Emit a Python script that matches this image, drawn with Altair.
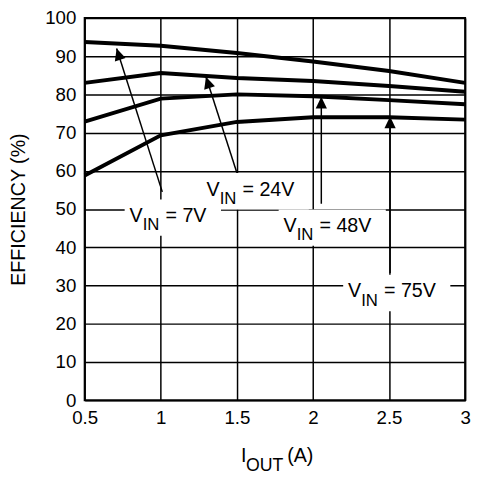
import math

import altair as alt
import pandas as pd

iout = [0.5, 1.0, 1.5, 2.0, 2.5, 3.0]
eff_7v = [93.7, 92.7, 90.8, 88.6, 86.1, 83.0]
eff_24v = [83.0, 85.6, 84.3, 83.5, 82.2, 80.7]
eff_48v = [72.9, 78.9, 80.0, 79.5, 78.5, 77.4]
eff_75v = [58.8, 69.3, 72.8, 74.0, 74.0, 73.4]

vin = ["7V", "24V", "48V", "75V"]
# label anchors (left end of "V", text baseline) in data units
label_x = [0.795, 1.301, 1.807, 2.231]
label_y = [46.6, 53.5, 44.0, 26.9]
# arrows: tail near the label, tip on the curve
tail_x = [1.01, 1.50, 2.055, 2.507]
tail_y = [54.5, 59.5, 51.4, 33.3]
tip_x = [0.71, 1.297, 2.055, 2.507]
tip_y = [92.0, 84.6, 79.4, 74.2]

xticks = [0.5, 1, 1.5, 2, 2.5, 3]
yticks = list(range(0, 101, 10))

W, H = 387, 389
px_x = W / (xticks[-1] - xticks[0])
px_y = H / 100

curves = pd.concat(
    [
        pd.DataFrame({"iout": iout, "eff": e, "vin": v})
        for v, e in zip(vin, [eff_7v, eff_24v, eff_48v, eff_75v])
    ]
)

labels = pd.DataFrame({"vin": vin, "x": label_x, "y": label_y})
labels["sub"] = "IN"
labels["rest"] = "= " + labels["vin"]
labels["x1"] = labels["x"] - 5 / px_x
labels["x2"] = labels["x"] + (71 + 11 * labels["vin"].str.len()) / px_x
labels["y1"] = labels["y"] + 23 / px_y
labels["y2"] = labels["y"] - 14 / px_y

arrows = pd.DataFrame(
    {"vin": vin, "tx": tail_x, "ty": tail_y, "hx": tip_x, "hy": tip_y}
)
arrows["angle"] = [
    math.degrees(math.atan2((hx - tx) * px_x, (hy - ty) * px_y)) % 360
    for tx, ty, hx, hy in zip(tail_x, tail_y, tip_x, tip_y)
]

font = "Liberation Sans"
xs = alt.Scale(domain=[0.5, 3], nice=False)
ys = alt.Scale(domain=[0, 100], nice=False)
xaxis = alt.Axis(values=xticks, format="~g", title=None, labelFlush=False, labelOverlap=False)
yaxis = alt.Axis(
    values=yticks,
    title="EFFICIENCY (%)",
    titleX=-77,
    titleY=H / 2,
    titleAngle=270,
    titleAlign="center",
    titleBaseline="top",
    labelPadding=9,
    labelOverlap=False,
)


def X(field):
    return alt.X(field, type="quantitative", scale=xs, axis=xaxis)


def Y(field):
    return alt.Y(field, type="quantitative", scale=ys, axis=yaxis)


lines = alt.Chart(curves).mark_line(color="black", strokeWidth=4).encode(
    X("iout"), Y("eff"), detail="vin:N"
)

boxes = alt.Chart(labels).mark_rect(fill="white").encode(
    X("x1"), x2="x2", y=Y("y1"), y2="y2"
)

rules = alt.Chart(arrows).mark_rule(color="black").encode(
    X("tx"),
    Y("ty"),
    x2="hx",
    y2="hy",
    strokeWidth=alt.StrokeWidth(
        "vin:N",
        scale=alt.Scale(domain=vin, range=[1.5, 1.5, 2, 3]),
        legend=None,
    ),
)

heads = alt.Chart(arrows).mark_point(
    shape="M0,0L-0.62,1.3L0.62,1.3Z",
    filled=True,
    color="black",
    opacity=1,
    size=340,
    strokeWidth=0,
).encode(X("hx"), Y("hy"), angle=alt.Angle("angle:Q", scale=None))

base = alt.Chart(labels).encode(X("x"), Y("y"))
txt_v = base.mark_text(
    text="V", align="left", baseline="alphabetic", font=font, fontSize=20, color="black"
)
txt_sub = base.mark_text(
    align="left", baseline="alphabetic", font=font, fontSize=17, color="black",
    dx=13.3, dy=8.3,
).encode(text="sub:N")
txt_rest = base.mark_text(
    align="left", baseline="alphabetic", font=font, fontSize=20, color="black",
    dx=36.5,
).encode(text="rest:N")

xt = pd.DataFrame({"main": ["I"], "sub": ["OUT"], "unit": ["(A)"]})
xt_base = alt.Chart(xt)
xtitle = alt.layer(
    xt_base.mark_text(align="left", baseline="alphabetic", font=font, fontSize=20, color="black")
    .encode(text="main:N", x=alt.value(159), y=alt.value(452)),
    xt_base.mark_text(align="left", baseline="alphabetic", font=font, fontSize=18, color="black")
    .encode(text="sub:N", x=alt.value(164), y=alt.value(461)),
    xt_base.mark_text(align="left", baseline="alphabetic", font=font, fontSize=20, color="black")
    .encode(text="unit:N", x=alt.value(206), y=alt.value(452)),
)

chart = (
    alt.layer(lines, boxes, rules, heads, txt_v, txt_sub, txt_rest, xtitle)
    .properties(
        width=W,
        height=H,
        autosize=alt.AutoSizeParams(type="none"),
        padding={"left": 78, "top": 6, "right": 7, "bottom": 77},
        background="white",
    )
    .configure_view(stroke="black", strokeWidth=2)
    .configure_axis(
        grid=True,
        gridColor="black",
        gridWidth=1.5,
        gridOpacity=1,
        domain=False,
        ticks=False,
        tickSize=0,
        labelFont=font,
        labelFontSize=19,
        labelColor="black",
        labelPadding=9,
        titleFont=font,
        titleFontSize=20,
        titleFontWeight="normal",
        titleColor="black",
    )
)

chart.save("out.html", embed_options={"renderer": "svg", "actions": False})
